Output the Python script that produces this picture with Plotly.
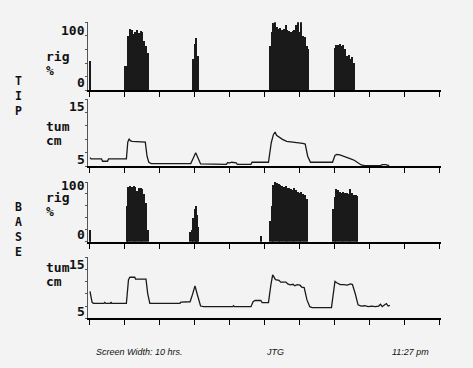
import plotly.graph_objects as go

# ---------------- data (hours from start of recording) ----------------
# TIP rigidity (%)
tip_rig_t = [0.01,
             1.00, 1.05, 1.10, 1.15, 1.20, 1.25, 1.30, 1.35, 1.40, 1.45, 1.50, 1.55, 1.60, 1.65,
             2.96, 3.00, 3.04, 3.08,
             5.15, 5.20, 5.25, 5.30, 5.35, 5.40, 5.45, 5.50, 5.55, 5.60, 5.65, 5.70, 5.75, 5.80,
             5.85, 5.90, 5.95, 6.00, 6.05, 6.10, 6.15, 6.20, 6.25,
             7.00, 7.05, 7.10, 7.15, 7.20, 7.25, 7.30, 7.35, 7.40, 7.45, 7.50, 7.55]
tip_rig_v = [42,
             35, 35, 80, 89, 88, 82, 86, 88, 84, 87, 85, 72, 65, 55,
             45, 68, 76, 50,
             65, 85, 98, 100, 92, 90, 91, 88, 90, 95, 88, 87, 86, 87,
             88, 95, 100, 85, 100, 80, 78, 65, 60,
             62, 66, 66, 68, 65, 66, 60, 50, 52, 45, 48, 40]

# TIP tumescence (cm)
tip_tum_t = [0.00, 0.03, 0.33, 0.36, 0.50, 0.53, 1.04, 1.08, 1.12, 1.15, 1.20, 1.58, 1.63, 1.68,
             1.75, 2.88, 2.95, 3.02, 3.09, 3.16, 3.90, 3.93, 4.00, 4.05, 4.18, 4.21, 4.60, 4.63,
             5.10, 5.18, 5.24, 5.29, 5.33, 5.38, 5.50, 5.62, 5.85, 6.00, 6.08, 6.15, 6.22, 6.30,
             6.93, 7.00, 7.05, 7.14, 7.25, 7.35, 7.45, 7.55, 7.65, 7.75, 7.85, 8.30, 8.35, 8.45, 8.55]
tip_tum_v = [6.3, 6.1, 6.1, 5.75, 5.75, 6.1, 6.1, 8.6, 9.1, 8.8, 8.7, 8.6, 6.5, 5.6,
             5.4, 5.4, 6.2, 7.0, 6.2, 5.35, 5.3, 5.55, 5.5, 5.6, 5.5, 5.3, 5.3, 5.6,
             5.6, 8.5, 9.7, 10.1, 9.6, 9.4, 9.0, 8.7, 8.6, 8.5, 8.4, 8.3, 6.5, 5.6,
             5.6, 6.6, 6.75, 6.7, 6.5, 6.4, 6.1, 5.9, 5.6, 5.2, 5.1, 5.1, 5.25, 5.25, 5.1]

# BASE rigidity (%)
base_rig_t = [0.01,
              1.05, 1.10, 1.15, 1.20, 1.25, 1.30, 1.35, 1.40, 1.45, 1.50, 1.55, 1.60, 1.65,
              2.87, 2.92, 2.96, 3.00, 3.03, 3.06, 3.09,
              4.90,
              5.15, 5.20, 5.25, 5.30, 5.35, 5.40, 5.45, 5.50, 5.55, 5.60, 5.65, 5.70, 5.75, 5.80,
              5.85, 5.90, 5.95, 6.00, 6.05, 6.10, 6.15, 6.20,
              6.95, 7.00, 7.05, 7.10, 7.15, 7.20, 7.25, 7.30, 7.35, 7.40, 7.45, 7.50, 7.55, 7.60, 7.65]
base_rig_v = [20,
              60, 92, 93, 92, 93, 92, 85, 90, 90, 88, 80, 65, 20,
              17, 20, 40, 55, 60, 45, 25,
              10,
              35, 60, 95, 100, 98, 96, 95, 94, 92, 93, 90, 90, 88, 86,
              90, 86, 84, 82, 84, 80, 78, 72,
              55, 75, 88, 87, 84, 82, 83, 81, 82, 80, 88, 82, 78, 79, 77]

# BASE tumescence (cm)
base_tum_t = [0.00, 0.03, 0.06, 0.10, 0.40, 0.42, 0.45, 0.58, 0.60, 0.62, 1.04, 1.10, 1.14, 1.28,
              1.30, 1.60, 1.65, 1.71, 2.57, 2.60, 2.86, 2.93, 3.00, 3.07, 3.16, 3.25, 4.08, 4.10,
              4.13, 4.60, 4.66, 4.72, 4.88, 4.92, 5.10, 5.17, 5.22, 5.25, 5.30, 5.40, 5.45, 5.60,
              5.65, 5.72, 5.80, 5.85, 5.92, 6.00, 6.05, 6.12, 6.20, 6.28, 6.35, 6.90, 6.96, 7.00,
              7.05, 7.15, 7.25, 7.35, 7.45, 7.50, 7.58, 7.66, 7.75, 7.85, 7.95, 8.05, 8.15, 8.25,
              8.30, 8.35, 8.42, 8.47, 8.52, 8.57]
base_tum_v = [9.4, 8.5, 7.6, 7.45, 7.45, 7.6, 7.45, 7.45, 7.65, 7.45, 7.45, 11.3, 11.7, 11.7,
              11.4, 11.4, 9.0, 7.45, 7.45, 7.65, 7.7, 8.9, 10.3, 8.8, 7.0, 6.9, 6.9, 7.05,
              6.9, 6.9, 7.7, 7.9, 7.9, 7.55, 7.55, 10.5, 12.1, 11.8, 11.3, 11.2, 10.9, 10.9,
              10.6, 10.45, 10.55, 10.3, 10.5, 10.4, 10.1, 10.0, 8.0, 6.9, 6.75, 6.75, 9.5, 11.0,
              10.8, 10.5, 10.5, 10.4, 10.6, 10.5, 9.0, 7.2, 7.0, 7.05, 6.9, 7.0, 6.9, 7.0,
              7.3, 6.9, 7.2, 7.4, 7.0, 7.1]

hour_ticks = [0, 1, 2, 3, 4, 5, 6, 7, 8, 9, 10]
rig_ticks = [0, 20, 40, 60, 80, 100]
tum_ticks = [5, 7, 9, 11, 13, 15]

# ---------------- figure ----------------
W, H = 473, 368
BG = "#f3f3f3"
INK = "#1a1a1a"


def px(x):
    return x / W


def py(y):
    return 1 - y / H


fig = go.Figure()
fig.add_trace(go.Bar(x=tip_rig_t, y=tip_rig_v, width=0.042, marker=dict(color=INK, line=dict(width=0)),
                     xaxis="x", yaxis="y", showlegend=False))
fig.add_trace(go.Scatter(x=tip_tum_t, y=tip_tum_v, mode="lines", line=dict(color=INK, width=1.3),
                         xaxis="x2", yaxis="y2", showlegend=False))
fig.add_trace(go.Bar(x=base_rig_t, y=base_rig_v, width=0.042, marker=dict(color=INK, line=dict(width=0)),
                     xaxis="x3", yaxis="y3", showlegend=False))
fig.add_trace(go.Scatter(x=base_tum_t, y=base_tum_v, mode="lines", line=dict(color=INK, width=1.3),
                         xaxis="x4", yaxis="y4", showlegend=False))

xdom = [px(88), px(441)]
xrange_ = [-0.057, 10.03]
ydoms = [
    [py(90.3), py(22.3)],
    [py(166.3), py(99)],
    [py(241.7), py(182)],
    [py(318.3), py(257)],
]
yranges = [[0, 100], [5, 15], [0, 100], [5, 15]]
yticks = [rig_ticks, tum_ticks, rig_ticks, tum_ticks]

layout = dict(
    width=W, height=H,
    margin=dict(l=0, r=0, t=0, b=0),
    paper_bgcolor=BG, plot_bgcolor=BG,
    bargap=0, showlegend=False,
)
for i in range(4):
    sx = "" if i == 0 else str(i + 1)
    layout["xaxis" + sx] = dict(
        domain=xdom, range=xrange_, anchor="y" + sx,
        showline=True, linecolor="black", linewidth=1.6, mirror=False,
        ticks="outside", tickvals=hour_ticks, ticklen=5, tickwidth=1, tickcolor="black",
        showticklabels=False, showgrid=False, zeroline=False, fixedrange=True,
    )
    layout["yaxis" + sx] = dict(
        domain=ydoms[i], range=yranges[i], anchor="x" + sx,
        showline=True, linecolor="#555555", linewidth=1,
        ticks="outside", tickvals=yticks[i], ticklen=2, tickwidth=1, tickcolor="#555555",
        showticklabels=False, showgrid=False, zeroline=False, fixedrange=True,
    )
fig.update_layout(**layout)

MONO = dict(family="DejaVu Sans Mono", size=13, color="#111111")
ann = []


def add(text, x, y, xa="left", ya="middle", font=MONO):
    ann.append(dict(text=text, x=px(x), y=py(y), xref="paper", yref="paper",
                    xanchor=xa, yanchor=ya, showarrow=False, font=font))


# scale labels
for top_y, bot_y, top_t, bot_t in [(22, 91, "100", "0"), (98, 168, "15", "5"),
                                   (177, 243, "100", "0"), (256, 320, "15", "5")]:
    add("<b>" + top_t + "</b>", 87, top_y - 1, xa="right", ya="top")
    add("<b>" + bot_t + "</b>", 87, bot_y + 1, xa="right", ya="bottom")

# unit labels
add("<b>rig</b>", 44, 56)
add("<b>%</b>", 44, 70)
add("<b>tum</b>", 44, 127)
add("<b>cm</b>", 44, 140)
add("<b>rig</b>", 44, 197)
add("<b>%</b>", 44, 211)
add("<b>tum</b>", 44, 267)
add("<b>cm</b>", 44, 281)

# vertical section labels (stacked letters in one text each)
VFONT = dict(family="DejaVu Sans Mono", size=11.5, color="#111111")
add("<b>T<br>I<br>P</b>", 18.5, 96.5, xa="center", font=VFONT)
add("<b>B<br>A<br>S<br>E</b>", 18.5, 229.5, xa="center", font=VFONT)

FOOT = dict(family="Liberation Sans", size=9, color="#111111")
add("<i>Screen Width: 10 hrs.</i>", 138.5, 351.5, xa="center", font=FOOT)
add("<i>JTG</i>", 274.5, 351.5, xa="center", font=FOOT)
add("<i>11:27 pm</i>", 410, 351.5, xa="center", font=FOOT)

fig.update_layout(annotations=ann)
fig.write_html(
    "out.html",
    config={"displayModeBar": False},
    post_script="document.body.style.margin='0';document.body.style.background='%s';" % BG,
)
